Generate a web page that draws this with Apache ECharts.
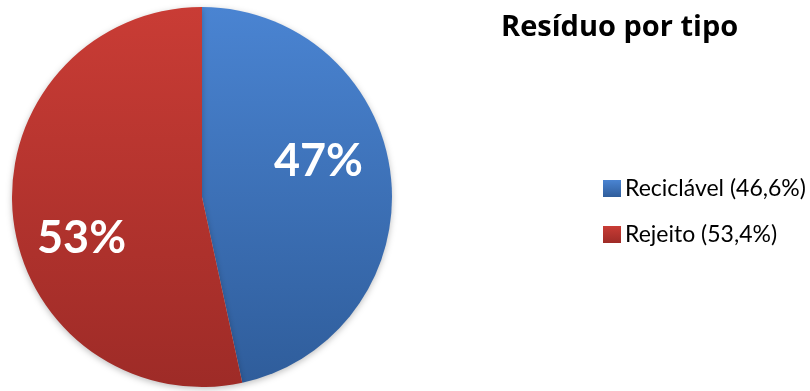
<!DOCTYPE html>
<html>
<head>
<meta charset="utf-8">
<script src="https://cdn.jsdelivr.net/npm/echarts@6/dist/echarts.min.js"></script>
<style>
  html, body { margin: 0; padding: 0; background: #fff; }
  #chart { width: 810px; height: 391px; }
</style>
</head>
<body>
<div id="chart"></div>
<script>
const categories = ['Reciclável', 'Rejeito']
const values = [46.6, 53.4]
const pieLabels = ['47%', '53%']
const titleText = 'Resíduo por tipo'

const gradients = [
  ['#4a84d2', '#2f5d9b'],
  ['#c93c35', '#9e2b27']
]
// nudges so the labels sit where the original put them
const labelOffsets = [[19, -25], [-23, 31]]

const chart = echarts.init(document.getElementById('chart'))

const data = categories.map((name, i) => ({
  name: name,
  value: values[i],
  itemStyle: {
    color: new echarts.graphic.LinearGradient(0, 0, 0, 1, [
      { offset: 0, color: gradients[i][0] },
      { offset: 1, color: gradients[i][1] }
    ])
  },
  label: {
    offset: labelOffsets[i],
    formatter: pieLabels[i]
  }
}))

const option = {
  animation: false,
  title: {
    text: titleText,
    left: 496,
    top: 8,
    textStyle: {
      fontFamily: 'Open Sans',
      fontWeight: 'bold',
      fontSize: 29,
      color: '#000'
    }
  },
  legend: {
    orient: 'vertical',
    left: 603,
    top: 177,
    padding: 0,
    itemWidth: 18,
    itemHeight: 17,
    itemGap: 23,
    icon: 'rect',
    itemStyle: { shadowBlur: 0, shadowOffsetY: 0 },
    formatter: function (name) {
      const i = categories.indexOf(name)
      return name + ' (' + values[i].toFixed(1).replace('.', ',') + '%)'
    },
    textStyle: {
      fontFamily: 'Lato',
      fontSize: 23,
      color: '#000',
      padding: [0, 0, 0, -1]
    }
  },
  series: [
    {
      type: 'pie',
      center: [202, 197],
      radius: [0, 190],
      startAngle: 90,
      clockwise: true,
      silent: true,
      itemStyle: {
        shadowBlur: 6,
        shadowOffsetY: 2,
        shadowColor: 'rgba(0,0,0,0.25)'
      },
      label: {
        show: true,
        position: 'inside',
        color: '#fff',
        fontFamily: 'Lato',
        fontWeight: 'bold',
        fontSize: 45
      },
      labelLine: { show: false },
      data: data
    }
  ]
}
chart.setOption(option)
</script>
</body>
</html>
